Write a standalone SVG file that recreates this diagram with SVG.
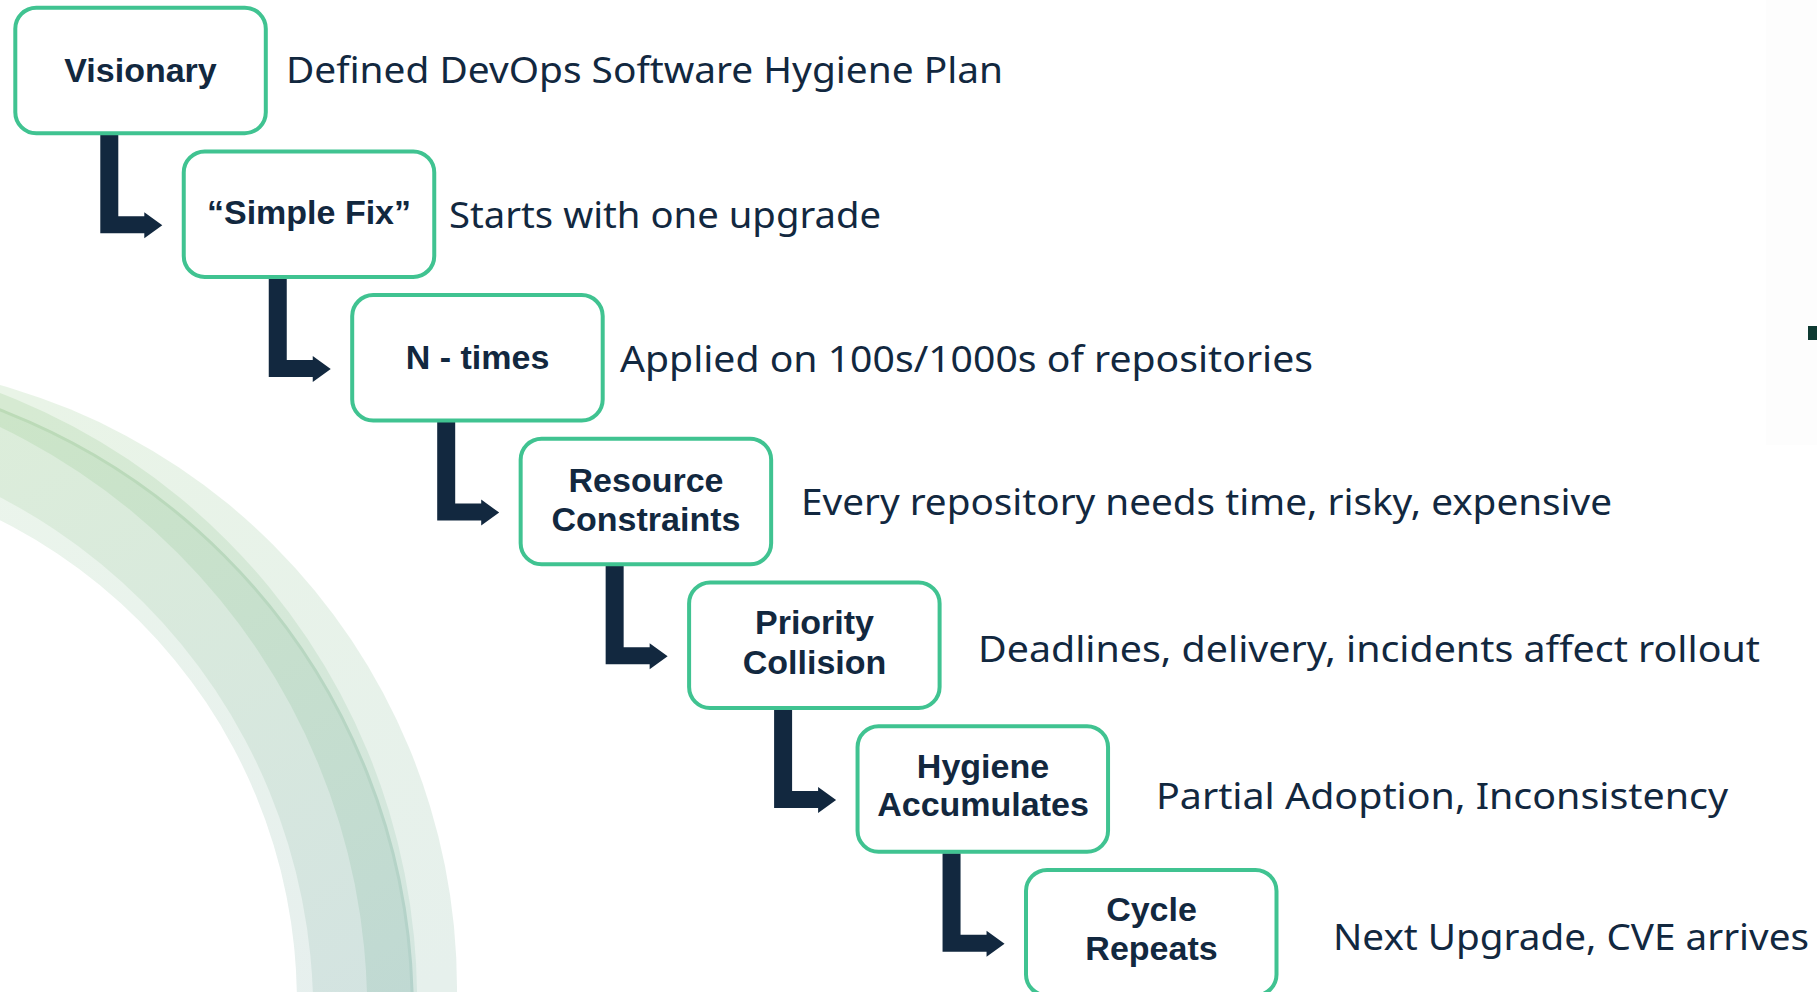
<svg xmlns="http://www.w3.org/2000/svg" xmlns:xlink="http://www.w3.org/1999/xlink" width="1817" height="992" viewBox="0 0 1817 992">
  <style>
    .box { fill: #ffffff; stroke: #40C391; stroke-width: 4; }
    .lbl { font-family: "Liberation Sans", Arial, sans-serif; font-weight: 700; font-size: 34px; fill: #12283F; text-anchor: middle; }
    .desc { font-family: "Noto Sans", "Liberation Sans", Arial, sans-serif; font-size: 37px; fill: #12283F; }
    .bend { fill: #12283F; }
  </style>
  <defs>
    <!-- ring bands fade from soft green at the top to teal at the bottom -->
    <linearGradient id="gVLight" gradientUnits="userSpaceOnUse" x1="60" y1="380" x2="420" y2="992">
      <stop offset="0" stop-color="#E9F4E7"/>
      <stop offset="1" stop-color="#E6F0EC"/>
    </linearGradient>
    <linearGradient id="gLm" gradientUnits="userSpaceOnUse" x1="60" y1="380" x2="420" y2="992">
      <stop offset="0" stop-color="#D6EAD2"/>
      <stop offset="1" stop-color="#D4E6E0"/>
    </linearGradient>
    <linearGradient id="gMedium" gradientUnits="userSpaceOnUse" x1="60" y1="380" x2="420" y2="992">
      <stop offset="0" stop-color="#CCE5C8"/>
      <stop offset="1" stop-color="#C0D9D3"/>
    </linearGradient>
    <linearGradient id="gLight" gradientUnits="userSpaceOnUse" x1="60" y1="380" x2="420" y2="992">
      <stop offset="0" stop-color="#DCEDDA"/>
      <stop offset="1" stop-color="#D3E3E1"/>
    </linearGradient>
    <linearGradient id="gLighter" gradientUnits="userSpaceOnUse" x1="60" y1="380" x2="420" y2="992">
      <stop offset="0" stop-color="#EBF5EB"/>
      <stop offset="1" stop-color="#E6EFEE"/>
    </linearGradient>
    <linearGradient id="gLine" gradientUnits="userSpaceOnUse" x1="60" y1="380" x2="420" y2="992">
      <stop offset="0" stop-color="#BCDBB7"/>
      <stop offset="1" stop-color="#B4D2CB"/>
    </linearGradient>
    <!-- bent connector: drops from a box bottom, turns right into the next box -->
    <path id="bendShape" d="M87 129 L105 129 L105 210.5 L131 210.5 L131 206.5 L149 219.5 L131 232.5 L131 227.5 L87 227.5 Z"/>
  </defs>

  <rect x="0" y="0" width="1817" height="992" fill="#ffffff"/>

  <!-- decorative quarter ring, bottom left -->
  <g id="ring">
    <circle cx="-169.3" cy="988" r="626.3" fill="url(#gVLight)"/>
    <circle cx="-233.2" cy="1000" r="650.3" fill="url(#gLm)"/>
    <circle cx="-230.5" cy="1010" r="642.8" fill="url(#gMedium)" stroke="url(#gLine)" stroke-width="3"/>
    <circle cx="-280.1" cy="1010.6" r="647.3" fill="url(#gLight)"/>
    <circle cx="-267.8" cy="1012.8" r="581" fill="url(#gLighter)"/>
    <circle cx="-241.7" cy="1001.6" r="538.6" fill="#ffffff"/>
  </g>

  <!-- faint panel edge and mark on the right border -->
  <rect x="1766" y="0" width="51" height="445" fill="#FDFDFD"/>
  <rect x="1808" y="326" width="9" height="14" fill="#0E3A32"/>

  <g id="connectors">
    <use xlink:href="#bendShape" class="bend" transform="translate(13.3 5.7)"/>
    <use xlink:href="#bendShape" class="bend" transform="translate(181.75 149.4)"/>
    <use xlink:href="#bendShape" class="bend" transform="translate(350.2 293.1)"/>
    <use xlink:href="#bendShape" class="bend" transform="translate(518.65 436.8)"/>
    <use xlink:href="#bendShape" class="bend" transform="translate(687.1 580.5)"/>
    <use xlink:href="#bendShape" class="bend" transform="translate(855.55 724.2)"/>
  </g>

  <g id="visionary">
    <rect class="box" x="15.3" y="7.7" width="250.5" height="125.5" rx="21"/>
    <text class="lbl" x="140.5" y="82" font-size="35">Visionary</text>
    <text class="desc" x="286" y="83" textLength="717" lengthAdjust="spacingAndGlyphs">Defined DevOps Software Hygiene Plan</text>
  </g>

  <g id="simple-fix">
    <rect class="box" x="183.75" y="151.4" width="250.5" height="125.5" rx="21"/>
    <text class="lbl" x="309" y="224" font-size="35">“Simple Fix”</text>
    <text class="desc" x="449" y="228" textLength="432" lengthAdjust="spacingAndGlyphs">Starts with one upgrade</text>
  </g>

  <g id="n-times">
    <rect class="box" x="352.2" y="295.1" width="250.5" height="125.5" rx="21"/>
    <text class="lbl" x="477.5" y="369" font-size="35">N - times</text>
    <text class="desc" x="620" y="372" textLength="693" lengthAdjust="spacingAndGlyphs">Applied on 100s/1000s of repositories</text>
  </g>

  <g id="resource-constraints">
    <rect class="box" x="520.65" y="438.8" width="250.5" height="125.5" rx="21"/>
    <text class="lbl" x="646" y="492">Resource</text>
    <text class="lbl" x="646" y="531">Constraints</text>
    <text class="desc" x="801" y="515" textLength="811" lengthAdjust="spacingAndGlyphs">Every repository needs time, risky, expensive</text>
  </g>

  <g id="priority-collision">
    <rect class="box" x="689.1" y="582.5" width="250.5" height="125.5" rx="21"/>
    <text class="lbl" x="814.5" y="634">Priority</text>
    <text class="lbl" x="814.5" y="674">Collision</text>
    <text class="desc" x="978" y="662" textLength="782" lengthAdjust="spacingAndGlyphs">Deadlines, delivery, incidents affect rollout</text>
  </g>

  <g id="hygiene-accumulates">
    <rect class="box" x="857.55" y="726.2" width="250.5" height="125.5" rx="21"/>
    <text class="lbl" x="983" y="778">Hygiene</text>
    <text class="lbl" x="983" y="816">Accumulates</text>
    <text class="desc" x="1156" y="809" textLength="572" lengthAdjust="spacingAndGlyphs">Partial Adoption, Inconsistency</text>
  </g>

  <g id="cycle-repeats">
    <rect class="box" x="1026" y="869.9" width="250.5" height="125.5" rx="21"/>
    <text class="lbl" x="1151.5" y="921">Cycle</text>
    <text class="lbl" x="1151.5" y="960">Repeats</text>
    <text class="desc" x="1333" y="950" textLength="476" lengthAdjust="spacingAndGlyphs">Next Upgrade, CVE arrives</text>
  </g>
</svg>
